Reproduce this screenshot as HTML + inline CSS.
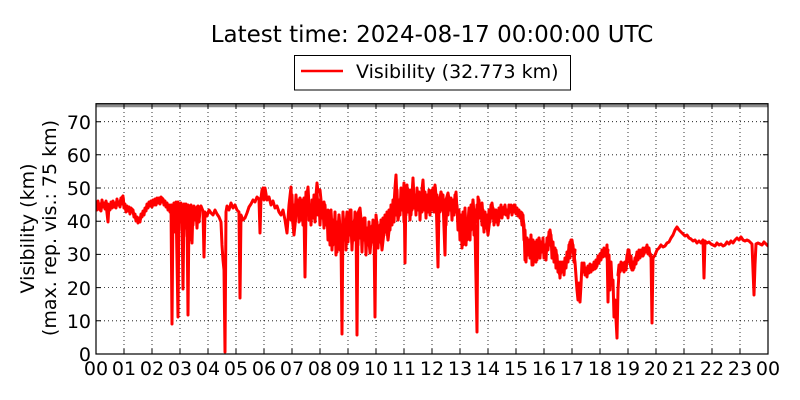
<!DOCTYPE html>
<html><head><meta charset="utf-8"><style>
html,body{margin:0;padding:0;background:#fff;}
svg{display:block;font-family:"DejaVu Sans","Liberation Sans",sans-serif;}
</style></head><body>
<svg width="800" height="400" viewBox="0 0 800 400" xmlns="http://www.w3.org/2000/svg">
<rect width="800" height="400" fill="#fff"/>
<text x="432" y="42" font-size="23" text-anchor="middle" fill="#000">Latest time: 2024-08-17 00:00:00 UTC</text>
<rect x="294.5" y="55.5" width="276" height="34.5" fill="#fff" stroke="#000" stroke-width="1"/>
<line x1="301" y1="71" x2="343" y2="71" stroke="#f00" stroke-width="2.5"/>
<text x="356" y="78" font-size="19" fill="#000">Visibility (32.773 km)</text>
<defs><clipPath id="c"><rect x="96" y="103.5" width="672" height="250.5"/></clipPath></defs>
<g stroke="#000" stroke-width="0.8" stroke-dasharray="1,3" fill="none">
<line x1="96" y1="320.8" x2="768" y2="320.8"/><line x1="96" y1="287.6" x2="768" y2="287.6"/><line x1="96" y1="254.4" x2="768" y2="254.4"/><line x1="96" y1="221.2" x2="768" y2="221.2"/><line x1="96" y1="188" x2="768" y2="188"/><line x1="96" y1="154.8" x2="768" y2="154.8"/><line x1="96" y1="121.7" x2="768" y2="121.7"/>
<line x1="124" y1="104" x2="124" y2="354"/><line x1="152" y1="104" x2="152" y2="354"/><line x1="180" y1="104" x2="180" y2="354"/><line x1="208" y1="104" x2="208" y2="354"/><line x1="236" y1="104" x2="236" y2="354"/><line x1="264" y1="104" x2="264" y2="354"/><line x1="292" y1="104" x2="292" y2="354"/><line x1="320" y1="104" x2="320" y2="354"/><line x1="348" y1="104" x2="348" y2="354"/><line x1="376" y1="104" x2="376" y2="354"/><line x1="404" y1="104" x2="404" y2="354"/><line x1="432" y1="104" x2="432" y2="354"/><line x1="460" y1="104" x2="460" y2="354"/><line x1="488" y1="104" x2="488" y2="354"/><line x1="516" y1="104" x2="516" y2="354"/><line x1="544" y1="104" x2="544" y2="354"/><line x1="572" y1="104" x2="572" y2="354"/><line x1="600" y1="104" x2="600" y2="354"/><line x1="628" y1="104" x2="628" y2="354"/><line x1="656" y1="104" x2="656" y2="354"/><line x1="684" y1="104" x2="684" y2="354"/><line x1="712" y1="104" x2="712" y2="354"/><line x1="740" y1="104" x2="740" y2="354"/>
</g>
<g clip-path="url(#c)">
<line x1="96" y1="105.5" x2="768" y2="105.5" stroke="#8c8c8c" stroke-width="3.5"/>
<g fill="none" stroke="#f00" stroke-width="3" stroke-linejoin="round" stroke-linecap="round">
<polyline points="96,207 98,203 100,210 102,202 104,206 106,204 108,222 109,205 111,208 113,203 115,207 117,201 119,205 121,199 123,196 124,206 126,210 128,208 130,212 132,209 134,215 136,219 138,222 140,220 142,214 144,212 146,208 148,205 150,202 152,205 154,200 156,203 158,199 160,202 162,198 164,201 166,204 168,208 170,211 171,205 172,324 173,205 174,214 176,202 178,317 179,208 180,220 181,203 182,212 183,289 184,206 185,222 186,204 187,213 188,315 189,210 190,220 191,205 192,243 193,208 195,212 197,207 199,210 201,206 203,211 204,257 205,212 207,216 209,210 211,213 213,215 215,210 217,214 219,217 221,222 222,245 223,260 224,270 225,352 226,212 227,206 229,210 231,203 233,208 235,205 237,210 239,212 240,298 241,215 243,220 245,218 247,213 249,207 251,204 253,200 255,202 257,197 259,199 260,233 261,198 262,190 263,188 264,200 265,188 267,200 269,197 271,205 273,201 275,208 277,206 279,212 281,215 283,210 285,220 287,233 289,205 291,187 292,215 294,235 296,215 298,205 300,210 302,200 304,212 305,277 306,212 307,195 308,187 309,205 311,210 313,200 315,208 317,183 318,192 320,190 321,200 322,210 324,202 326,215 328,210 330,235 331,212 333,245 335,220 337,252 339,215 341,240 342,334 343,215 345,238 347,212 349,230 350,210 352,245 354,222 356,215 357,335 358,213 360,208 362,230 364,218 366,245 368,228 370,253 372,226 374,232 375,317 376,215 378,235 380,225 382,250 384,232 386,220 388,240 390,222 392,215 394,205 395,188 396,175 397,200 398,220 400,205 402,190 403,200 404,183 405,263 406,187 407,205 409,190 411,215 413,178 414,200 416,205 418,192 420,210 422,190 423,180 424,200 426,210 428,195 430,205 432,190 434,200 435,185 436,195 438,267 439,205 441,192 443,200 445,255 446,200 448,193 450,205 452,200 454,208 456,192 457,210 459,225 461,215 463,245 465,212 467,240 469,208 471,230 473,200 475,228 477,332 478,197 480,210 482,203 484,230 486,215 488,235 490,218 492,203 494,220 496,210 498,225 500,212 502,215 504,207 506,212 508,215 510,208 512,210 514,205 516,212 518,210 520,215 522,213 524,225 525,260 527,240 529,250 531,238 533,265 535,245 537,260 539,238 541,252 543,245 545,255 547,242 549,235 550,230 552,245 554,260 556,250 558,270 560,275 562,268 564,270 566,262 568,255 570,242 572,240 574,255 575,262 577,290 578,300 579,283 580,302 581,285 582,263 584,268 586,275 588,270 590,266 592,270 594,265 596,268 598,262 600,257 602,252 604,250 606,255 607,245 608,302 609,255 610,290 611,262 612,283 613,280 614,317 615,300 617,338 618,290 619,273 621,263 623,268 625,263 626,270 628,250 629,258 631,268 633,270 635,262 637,253 639,258 641,252 643,256 645,250 647,246 649,252 651,255 652,323 653,258 655,255 657,250 659,248 661,245 663,247 665,246 667,243 669,242 671,238 673,235 675,230 677,227 679,230 681,232 683,234 685,236 687,235 689,238 691,239 693,241 695,240 697,243 699,241 701,243 703,240 704,278 705,241 707,243 709,242 711,244 713,245 715,246 717,243 719,245 721,244 723,246 725,245 727,242 729,244 731,241 733,243 735,240 737,238 739,240 741,237 743,240 745,241 747,240 749,241 751,243 752,244 753,270 754,295 755,265 756,244 758,243 760,244 762,245 764,242 766,244 768,246"/>
<polyline points="96,203 97,210 98,201 99,208 100,204 101,211 102,200 103,207 104,203 105,209 106,201 107,207 108,204 110,210 111,202 112,208 113,201 114,207 115,203 116,208 117,199 118,205 119,202 120,207 121,198 122,204 123,197 124,208 125,204 126,212 127,206 128,211 129,207 130,214 131,208 132,212 133,210 134,217 135,214 136,221 137,217 138,223 139,218 140,222 141,214 142,217 143,211 144,215 145,208 146,211 147,204 148,208 149,202 150,206 151,201 152,207 153,200 154,205 155,199 156,205 157,198 158,203 159,198 160,204 161,197 162,202 163,199 164,205 165,201 166,207 167,203 168,210 169,205 170,212"/>
<polyline points="172,205 173,228 174,203 175,232 176,206 177,225 178,202 179,230 180,205 181,222 182,208 183,235 184,204 185,228 186,210 187,236 188,205 189,224 190,212 191,240 192,208 193,225 194,206 195,220 196,210 197,228 198,206 199,222 200,210"/>
<polyline points="290,200 291,220 292,195 293,225 294,205 295,218 296,195 297,215 298,200 299,222 300,198 301,220 302,205 303,225 304,198 305,218 306,192 307,215 308,198 309,220 310,205 311,225 312,200 313,218 314,195 315,222 316,205 317,190 318,215 319,200 320,225 321,205 322,218 323,208 324,228 325,205 326,225 327,212 328,240 329,215 330,245 331,210 332,250 333,220 334,238 335,212 336,255 337,222 338,245 339,215 340,250 341,225 342,245 343,212 344,240 345,220 346,250 347,215 348,242 349,218 350,235 351,210 352,250 353,225 354,240 355,212 356,235 357,220 358,245 359,215 360,238 361,220 362,252 363,225 364,240 365,218 366,255 367,228 368,245 369,222 370,250 371,228 372,242 373,220 374,245 375,225 376,240 377,222 378,248 379,226 380,242 381,220 382,238 383,218 384,235 385,215 386,232 387,212 388,240 389,210 390,230 391,205 392,225 393,200 394,222 395,195 396,215 397,190 398,220 399,200 400,215 401,188 402,210 403,195 404,222 405,190 406,215 407,185 408,212 409,195 410,220 411,190 412,210 413,182 414,208 415,195 416,215 417,188 418,210 419,192 420,220 421,195 422,212 423,185 424,210 425,192 426,218 427,195 428,212 429,190 430,215 431,195 432,210 433,188 434,212 435,192 436,208 437,195 438,220 439,198 440,212 441,192 442,210 443,195 444,215 445,200 446,225 447,198 448,215 449,200 450,210 451,198 452,220 453,200 454,215 455,195 456,212 457,205 458,230 459,210 460,240 461,215 462,248 463,212 464,235 465,208 466,245 467,220 468,238 469,210 470,240 471,205 472,225 473,200 474,235 475,210 476,222 477,205 478,215 479,200 480,218 481,205 482,225 483,210 484,232 485,212 486,228 487,215 488,232 489,210 490,222 491,205 492,218 493,208 494,225 495,210 496,222 497,212 498,220 499,208 500,215 501,205 502,218 503,208 504,214 505,205 506,215 507,210 508,218 509,205 510,212 511,205 512,215 513,207 514,212 515,205 516,214 517,208 518,216 519,210 520,218 521,212 522,225 523,215 524,240 525,230 526,262 527,238 528,255 529,240 530,258 531,235 532,265 533,240 534,258 535,242 536,262 537,240 538,255 539,238 540,258 541,242 542,252 543,238 544,258 545,245 546,260 547,238 548,250 549,232 550,245 551,235 552,258 553,242 554,262 555,248 556,268 557,255 558,272 559,262 560,278 561,262 562,272 563,262 564,275 565,258 566,268 567,252 568,262 569,245 570,258 571,240 572,252 573,245 574,262 575,250"/>
<polyline points="582,265 583,272 584,263 585,275 586,268 587,277 588,266 589,273 590,264 591,272 592,265 593,270 594,262 595,269 596,260 597,266 598,256 599,263 600,254 601,260 602,250 603,257 604,248 605,256 606,250 607,258 608,250"/>
<polyline points="618,275 619,265 620,272 621,262 622,270 623,263 624,272 625,262 626,268 627,255 628,262 629,250 630,262 631,256 632,270 633,262 634,268 635,258 636,264 637,252 638,260 639,250 640,258 641,250 642,256 643,248 644,254 645,248 646,252 647,245 648,254 649,248 650,256"/>
</g>
</g>
<g stroke="#000" stroke-width="1" fill="none">
<path d="M124,354v-5M152,354v-5M180,354v-5M208,354v-5M236,354v-5M264,354v-5M292,354v-5M320,354v-5M348,354v-5M376,354v-5M404,354v-5M432,354v-5M460,354v-5M488,354v-5M516,354v-5M544,354v-5M572,354v-5M600,354v-5M628,354v-5M656,354v-5M684,354v-5M712,354v-5M740,354v-5"/>
<path d="M124,104v5M152,104v5M180,104v5M208,104v5M236,104v5M264,104v5M292,104v5M320,104v5M348,104v5M376,104v5M404,104v5M432,104v5M460,104v5M488,104v5M516,104v5M544,104v5M572,104v5M600,104v5M628,104v5M656,104v5M684,104v5M712,104v5M740,104v5"/>
<path d="M96,320.8h5M96,287.6h5M96,254.4h5M96,221.2h5M96,188h5M96,154.8h5M96,121.7h5M768,320.8h-5M768,287.6h-5M768,254.4h-5M768,221.2h-5M768,188h-5M768,154.8h-5M768,121.7h-5"/>
<rect x="96" y="103.7" width="672" height="250.3" stroke-width="1.2"/>
</g>
<g font-size="19" fill="#000" text-anchor="end">
<text x="91" y="361">0</text><text x="91" y="328">10</text><text x="91" y="295">20</text><text x="91" y="261">30</text><text x="91" y="228">40</text><text x="91" y="195">50</text><text x="91" y="162">60</text><text x="91" y="129">70</text>
</g>
<g font-size="19" fill="#000" text-anchor="middle">
<text x="96" y="375">00</text><text x="124" y="375">01</text><text x="152" y="375">02</text><text x="180" y="375">03</text><text x="208" y="375">04</text><text x="236" y="375">05</text><text x="264" y="375">06</text><text x="292" y="375">07</text><text x="320" y="375">08</text><text x="348" y="375">09</text><text x="376" y="375">10</text><text x="404" y="375">11</text><text x="432" y="375">12</text><text x="460" y="375">13</text><text x="488" y="375">14</text><text x="516" y="375">15</text><text x="544" y="375">16</text><text x="572" y="375">17</text><text x="600" y="375">18</text><text x="628" y="375">19</text><text x="656" y="375">20</text><text x="684" y="375">21</text><text x="712" y="375">22</text><text x="740" y="375">23</text><text x="768" y="375">00</text>
</g>
<text transform="translate(34,228.5) rotate(-90)" font-size="19" text-anchor="middle" fill="#000">Visibility (km)</text>
<text transform="translate(56,228) rotate(-90)" font-size="19" text-anchor="middle" fill="#000">(max. rep. vis.: 75 km)</text>
</svg>
</body></html>
